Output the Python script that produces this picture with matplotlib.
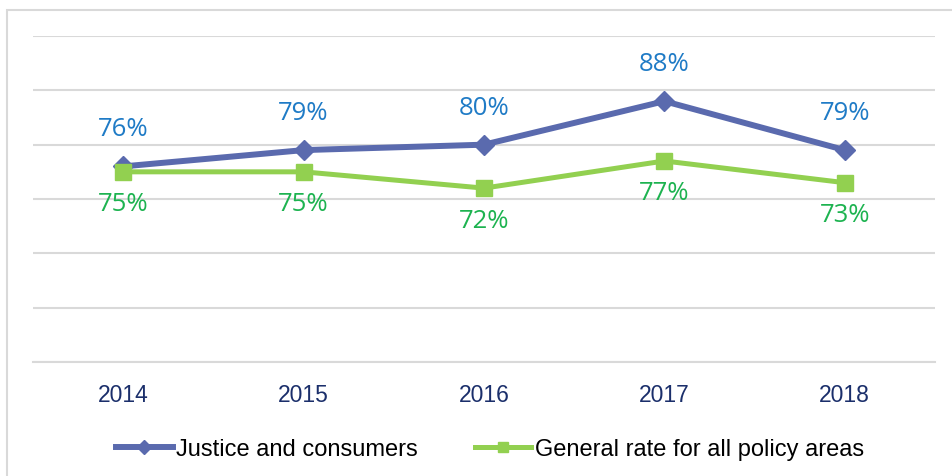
import matplotlib
matplotlib.use("Agg")
import matplotlib.pyplot as plt
from matplotlib.patches import Rectangle

years = ["2014", "2015", "2016", "2017", "2018"]
justice = [76, 79, 80, 88, 79]
general = [75, 75, 72, 77, 73]

BLUE_LINE = "#5A6AAE"
GREEN_LINE = "#92D050"
BLUE_TEXT = "#1F7BC6"
GREEN_TEXT = "#1DB350"
NAVY = "#1B2F6B"
GRID = "#D9D9D9"

fig = plt.figure(figsize=(9.53, 4.77), dpi=100)
# outer chart frame, only its left and top edges fall inside the canvas
fig.patches.append(Rectangle((7 / 953, -0.1), 1.2, 1 - 11 / 477 + 0.1,
                             transform=fig.transFigure, fill=False,
                             edgecolor=GRID, linewidth=1.5))

ax = fig.add_axes([33 / 953, 1 - 363 / 477, 902 / 953, 326 / 477])
x = range(len(years))

ax.plot(x, justice, color=BLUE_LINE, linewidth=4.3, marker="D",
        markersize=10, label="Justice and consumers", zorder=3)
ax.plot(x, general, color=GREEN_LINE, linewidth=3.6, marker="s",
        markersize=11, label="General rate for all policy areas", zorder=4)

label_font = dict(family="Open Sans", fontsize=18.5)
for i, v in enumerate(justice):
    ax.annotate(f"{v}%", (i, v), xytext=(0, 27), textcoords="offset points",
                ha="center", va="center", color=BLUE_TEXT, **label_font)
for i, v in enumerate(general):
    ax.annotate(f"{v}%", (i, v), xytext=(0, -23), textcoords="offset points",
                ha="center", va="center", color=GREEN_TEXT, **label_font)

ax.set_xlim(-0.5, len(years) - 0.5)
ax.set_ylim(40, 100)
ax.set_yticks(range(40, 101, 10))
ax.yaxis.grid(True, color=GRID, linewidth=1.5)
ax.set_axisbelow(True)
ax.tick_params(axis="y", left=False, labelleft=False)
ax.set_xticks(list(x))
ax.set_xticklabels(years, family="Liberation Sans", fontsize=16.5, color=NAVY)
ax.tick_params(axis="x", length=0, pad=15)
for side in ("top", "right", "left"):
    ax.spines[side].set_visible(False)
ax.spines["bottom"].set_color(GRID)
ax.spines["bottom"].set_linewidth(1.5)

fig.legend(loc="center", bbox_to_anchor=(490 / 953, 1 - 450 / 477), ncol=2,
           frameon=False, prop=dict(family="Liberation Sans", size=17),
           handlelength=2.4, handletextpad=0.15, columnspacing=2.4,
           markerscale=0.7)

fig.savefig("out.png", dpi=100)
